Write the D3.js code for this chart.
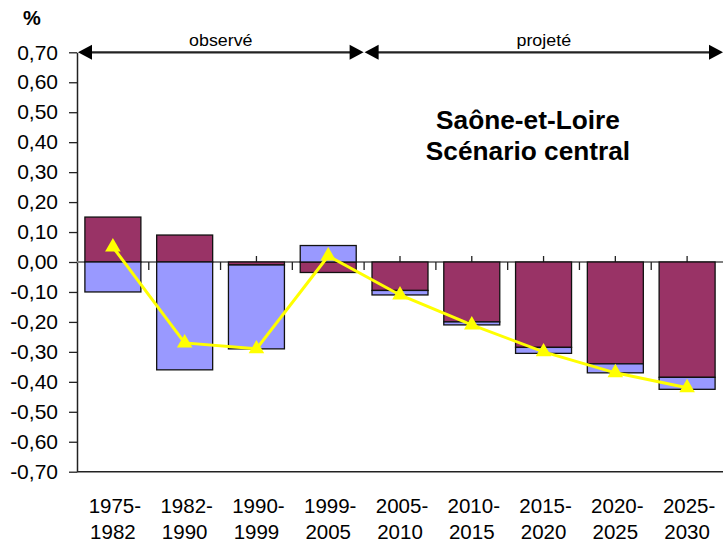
<!DOCTYPE html>
<html>
<head>
<meta charset="utf-8">
<script src="https://cdn.jsdelivr.net/npm/d3@7"></script>
<style>
  body { margin: 0; background: #fff; }
  svg text { font-family: "Liberation Sans", Arial, sans-serif; fill: #000; }
</style>
</head>
<body>
<div id="chart"></div>
<script>
// périodes
var categories = ["1975-1982", "1982-1990", "1990-1999", "1999-2005", "2005-2010",
                  "2010-2015", "2015-2020", "2020-2025", "2025-2030"];
// taux annuels moyens (%)
var soldeNaturel    = [0.15, 0.09, -0.01, -0.035, -0.095, -0.20, -0.285, -0.34, -0.385];
var soldeMigratoire = [-0.10, -0.36, -0.28, 0.055, -0.015, -0.01, -0.02, -0.03, -0.04];
var variationTotale = [0.05, -0.27, -0.29, 0.02, -0.11, -0.21, -0.30, -0.37, -0.42];
var yTicks = [0.7, 0.6, 0.5, 0.4, 0.3, 0.2, 0.1, 0, -0.1, -0.2, -0.3, -0.4, -0.5, -0.6, -0.7];
var nbObserve = 4;

var width = 723, height = 544;
var margin = { top: 52.3, right: 0, bottom: 72.3, left: 77 };

var svg = d3.select("#chart").append("svg")
  .attr("width", width)
  .attr("height", height);

svg.append("rect").attr("width", width).attr("height", height).attr("fill", "#fff");

var x = d3.scaleBand()
  .domain(categories)
  .range([margin.left, width - margin.right])
  .paddingInner(0.22)
  .paddingOuter(0.11);

var y = d3.scaleLinear()
  .domain([-0.7, 0.7])
  .range([height - margin.bottom, margin.top]);

var fr = d3.formatLocale({ decimal: ",", thousands: " ", grouping: [3], currency: ["", " €"], minus: "-" });
var fmt = fr.format(".2f");

// axe vertical
var yAxis = svg.append("g")
  .attr("transform", "translate(" + margin.left + ",0)")
  .call(d3.axisLeft(y).tickValues(yTicks).tickFormat(fmt).tickSize(8).tickSizeOuter(0).tickPadding(11));
yAxis.select(".domain").attr("stroke", "#222").attr("stroke-width", 1.5);
yAxis.selectAll(".tick line").attr("stroke", "#222").attr("stroke-width", 1.3);
yAxis.selectAll("text")
  .attr("font-size", 21)
  .attr("font-family", "Liberation Sans, Arial, sans-serif")
  .attr("fill", "#000");

// ligne du bas
svg.append("line")
  .attr("x1", margin.left).attr("x2", width)
  .attr("y1", y(-0.7)).attr("y2", y(-0.7))
  .attr("stroke", "#222").attr("stroke-width", 1.5);

// ligne zéro + graduations
svg.append("line")
  .attr("x1", margin.left).attr("x2", width)
  .attr("y1", y(0)).attr("y2", y(0))
  .attr("stroke", "#808080").attr("stroke-width", 2);

var step = x.step();
var bounds = categories.map(function(c) { return x(c) - step * x.paddingInner() / 2; });
svg.selectAll(".tickBound")
  .data(bounds.slice(1))
  .enter().append("line")
  .attr("x1", function(d) { return d; }).attr("x2", function(d) { return d; })
  .attr("y1", y(0)).attr("y2", y(0) + 8)
  .attr("stroke", "#222").attr("stroke-width", 1.3);
svg.selectAll(".tickMid")
  .data(categories)
  .enter().append("line")
  .attr("x1", function(d) { return x(d) + x.bandwidth() / 2; })
  .attr("x2", function(d) { return x(d) + x.bandwidth() / 2; })
  .attr("y1", y(0) - 6).attr("y2", y(0))
  .attr("stroke", "#222").attr("stroke-width", 1.3);

// barres empilées
var table = categories.map(function(c, i) {
  return { cat: c, naturel: soldeNaturel[i], migratoire: soldeMigratoire[i] };
});
var stack = d3.stack().keys(["naturel", "migratoire"]).offset(d3.stackOffsetDiverging);
var series = stack(table);
var colors = { naturel: "#993366", migratoire: "#9999FF" };

svg.selectAll(".serie")
  .data(series)
  .enter().append("g")
  .attr("fill", function(s) { return colors[s.key]; })
  .selectAll("rect")
  .data(function(s) { return s; })
  .enter().append("rect")
  .attr("x", function(d) { return x(d.data.cat); })
  .attr("width", x.bandwidth())
  .attr("y", function(d) { return y(Math.max(d[0], d[1])); })
  .attr("height", function(d) { return Math.abs(y(d[0]) - y(d[1])); })
  .attr("stroke", "#111")
  .attr("stroke-width", 1.3);

// courbe variation totale
var line = d3.line()
  .x(function(d, i) { return x(categories[i]) + x.bandwidth() / 2; })
  .y(function(d) { return y(d); });

svg.append("path")
  .datum(variationTotale)
  .attr("d", line)
  .attr("fill", "none")
  .attr("stroke", "#FFFF00")
  .attr("stroke-width", 3);

svg.selectAll(".marker")
  .data(variationTotale)
  .enter().append("path")
  .attr("d", d3.symbol().type(d3.symbolTriangle).size(105))
  .attr("transform", function(d, i) {
    return "translate(" + (x(categories[i]) + x.bandwidth() / 2) + "," + y(d) + ")";
  })
  .attr("fill", "#FFFF00");

// libellés des catégories
var labels = svg.selectAll(".catLabel")
  .data(categories)
  .enter().append("text")
  .attr("text-anchor", "middle")
  .attr("font-size", 20.5);
labels.append("tspan")
  .attr("x", function(d) { return x(d) + x.bandwidth() / 2 + 2; })
  .attr("y", 513)
  .text(function(d) { return d.split("-")[0] + "-"; });
labels.append("tspan")
  .attr("x", function(d) { return x(d) + x.bandwidth() / 2; })
  .attr("y", 539)
  .text(function(d) { return d.split("-")[1]; });

// flèches observé / projeté
var yArrow = y(0.7);
var xStart = margin.left + 1, xMid = bounds[nbObserve], xEnd = width;
function arrow(x1, x2, label) {
  svg.append("line")
    .attr("x1", x1 + 6).attr("x2", x2 - 6)
    .attr("y1", yArrow).attr("y2", yArrow)
    .attr("stroke", "#222").attr("stroke-width", 2.2);
  svg.append("path")
    .attr("d", "M" + x1 + "," + yArrow + "L" + (x1 + 14) + "," + (yArrow - 7.5) + "L" + (x1 + 14) + "," + (yArrow + 7.5) + "Z")
    .attr("fill", "#000");
  svg.append("path")
    .attr("d", "M" + x2 + "," + yArrow + "L" + (x2 - 14) + "," + (yArrow - 7.5) + "L" + (x2 - 14) + "," + (yArrow + 7.5) + "Z")
    .attr("fill", "#000");
  svg.append("text")
    .attr("x", (x1 + x2) / 2)
    .attr("y", 46)
    .attr("text-anchor", "middle")
    .attr("font-size", 17)
    .attr("class", "stretch")
    .text(label);
}
arrow(xStart, xMid - 0.5, "observé");
arrow(xMid + 0.5, xEnd, "projeté");

// titre
svg.append("text")
  .attr("x", 23).attr("y", 25)
  .attr("font-size", 20).attr("font-weight", "bold")
  .text("%");

var titre = ["Saône-et-Loire", "Scénario central"];
svg.selectAll(".titre")
  .data(titre)
  .enter().append("text")
  .attr("class", "stretch")
  .attr("x", 528)
  .attr("y", function(d, i) { return 129 + i * 31; })
  .attr("text-anchor", "middle")
  .attr("font-size", 25)
  .attr("font-weight", "bold")
  .text(function(d) { return d; });

svg.selectAll("text.stretch").each(function() {
  var w = this.getComputedTextLength();
  d3.select(this).attr("textLength", w * 1.05).attr("lengthAdjust", "spacingAndGlyphs");
});
</script>
</body>
</html>
